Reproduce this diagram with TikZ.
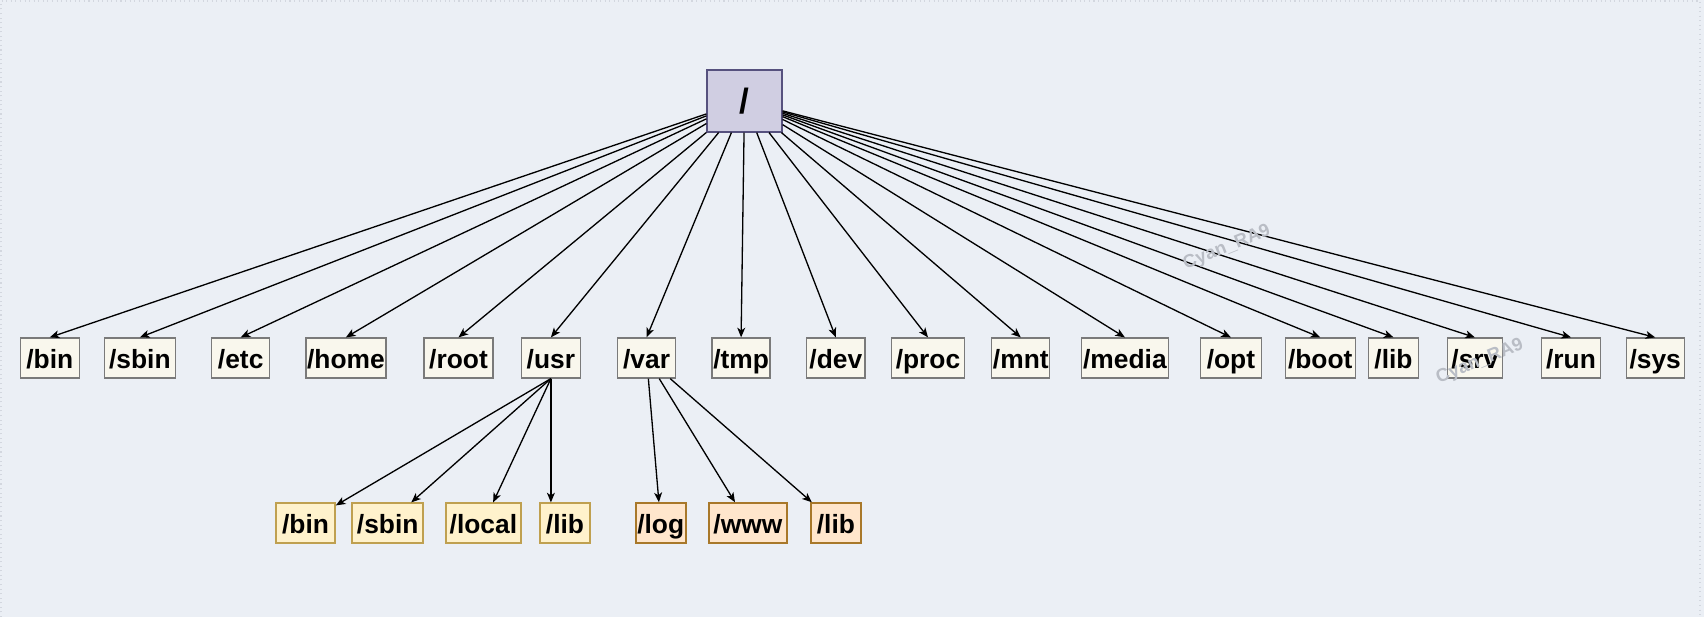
\documentclass[tikz,border=0pt]{standalone}
\usepackage{fontspec}
\setmainfont{Liberation Sans}
\usepackage{tikz}
\usetikzlibrary{arrows.meta}
\definecolor{PageBack}{HTML}{EBEFF5}
\definecolor{PageFrame}{HTML}{D3D7DF}
\definecolor{RootFill}{HTML}{D0CEE2}
\definecolor{RootLine}{HTML}{56517E}
\definecolor{DirFill}{HTML}{F9F7ED}
\definecolor{DirLine}{HTML}{7A7A7A}
\definecolor{UsrFill}{HTML}{FFF2CC}
\definecolor{UsrLine}{HTML}{BFA050}
\definecolor{VarFill}{HTML}{FFE6CC}
\definecolor{VarLine}{HTML}{A8782A}
\definecolor{MarkGray}{HTML}{B9BDC5}

\tikzset{
  dirbox/.style={draw=DirLine,fill=DirFill,line width=0.7pt,inner sep=0pt,
    minimum height=0.8cm,text height=13.5pt,text depth=2pt,
    font=\bfseries\fontsize{15}{18}\selectfont},
  usrbox/.style={dirbox,draw=UsrLine,fill=UsrFill,line width=1pt},
  varbox/.style={dirbox,draw=VarLine,fill=VarFill,line width=1.2pt},
  arr/.style={-{Stealth[length=5.5pt,width=4.5pt,inset=1.5pt]},line width=0.75pt},
  watermark/.style={text=MarkGray,rotate=22,font=\bfseries\fontsize{10.5}{12}\selectfont}
}

\begin{document}
\begin{tikzpicture}[x=0.02cm,y=-0.02cm]
\fill[PageBack] (0,0) rectangle (1704,617);
\useasboundingbox (0,0) rectangle (1704,617);
\draw[PageFrame,dotted,line width=0.6pt] (1,617) -- (1,1) -- (1700,1) -- (1700,617);

% the root
\node[draw=RootLine,fill=RootFill,line width=0.7pt,minimum width=1.5cm,minimum height=1.24cm,
      font=\bfseries\fontsize{20}{24}\selectfont] (fsroot) at (744.5,101) {/};

% first level
\foreach \n/\x/\w in {bin/49.75/59, sbin/139.9/71, etc/240.7/58, home/345.9/80,
    root/458.5/69, usr/550.9/58.5, var/646.6/58, tmp/741.1/58, dev/835.8/58.6,
    proc/928/73, mnt/1020.8/58, media/1124.9/87, opt/1230.9/61, boot/1320.2/70,
    lib/1393.5/50, srv/1474.9/55, run/1571/59, sys/1655.2/58}{
  \node[dirbox,minimum width=\w*0.02cm] (\n) at (\x,358) {/\n};
  \draw[arr] (fsroot) -- (\n.north);
}

% under /usr
\node[usrbox,minimum width=1.18cm] (ubin) at (305.5,523.3) {/bin};
\node[usrbox,minimum width=1.42cm] (usbin) at (387.7,523.3) {/sbin};
\node[usrbox,minimum width=1.5cm] (ulocal) at (483.4,523.3) {/local};
\node[usrbox,minimum width=1cm] (ulib) at (565,523.3) {/lib};
\draw[arr] (usr.south) -- (ubin);
\draw[arr] (usr.south) -- (usbin);
\draw[arr] (usr.south) -- (ulocal);
\draw[arr] (usr.south) -- (usr.south |- ulib.north);

% under /var
\node[varbox,minimum width=1cm] (vlog) at (660.7,523.3) {/log};
\node[varbox,minimum width=1.56cm] (vwww) at (747.9,523.3) {/www};
\node[varbox,minimum width=1cm] (vlib) at (835.9,523.3) {/lib};
\draw[arr] (var) -- (vlog);
\draw[arr] (var) -- (vwww);
\draw[arr] (var) -- (vlib);

% watermarks
\node[watermark] (markone) at (1227,248) {Cyan\_RA9};
\node[watermark] (marktwo) at (1480,362) {Cyan\_RA9};
\end{tikzpicture}
\end{document}
